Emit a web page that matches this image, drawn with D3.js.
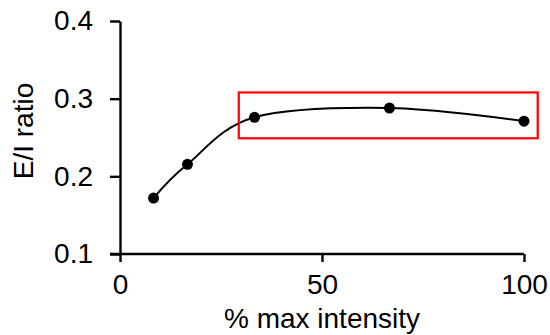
<!DOCTYPE html>
<html lang="en">
<head>
  <meta charset="UTF-8">
  <title>E/I ratio</title>
  <style>
    html, body {
      background: #ffffff;
      margin: 0px;
      overflow: hidden;
    }
    #container {
      width: 550px;
      height: 335px;
    }
    text {
      font-family: "Liberation Sans", Arial, sans-serif;
      fill: #000;
    }
  </style>
</head>
<body>
<div id="container"></div>

<script src="https://cdnjs.cloudflare.com/ajax/libs/d3/7.8.5/d3.min.js"></script>
<script>

  // data
  var intensity = [8.3, 16.7, 33.3, 66.7, 100];
  var eiRatio = [0.172, 0.2155, 0.276, 0.288, 0.271];
  var xTicks = [0, 50, 100];
  var yTicks = [0.1, 0.2, 0.3, 0.4];
  // highlight box (data units)
  var boxX = [29.4, 103.4];
  var boxY = [0.249, 0.308];

  var width = 550, height = 335;
  var fontSize = 28;

  var svg = d3.select('#container').append('svg')
    .attr('width', width)
    .attr('height', height);

  var x = d3.scaleLinear().domain([0, 100]).range([120, 524]);
  var y = d3.scaleLinear().domain([0.1, 0.4]).range([254, 21]);

  var points = intensity.map((d, i) => ({ x: d, y: eiRatio[i] }));

  // y axis
  var yAxis = svg.append('g')
    .attr('transform', 'translate(' + x(0) + ',0)')
    .call(d3.axisLeft(y).tickValues(yTicks).tickFormat(d3.format('.1f'))
      .tickSize(10).tickSizeOuter(0).tickPadding(17));

  // x axis
  var xAxis = svg.append('g')
    .attr('transform', 'translate(0,' + y(0.1) + ')')
    .call(d3.axisBottom(x).tickValues(xTicks).tickFormat(d3.format('d'))
      .tickSize(8).tickSizeOuter(0).tickPadding(12));

  [yAxis, xAxis].forEach(function(g) {
    g.select('.domain').attr('stroke', '#000').attr('stroke-width', 2.4);
    g.selectAll('.tick line').attr('stroke', '#000').attr('stroke-width', 2.4);
    g.selectAll('.tick text')
      .style('font-family', '"Liberation Sans", Arial, sans-serif')
      .style('font-size', fontSize + 'px')
      .attr('fill', '#000');
  });

  // extend x axis left to meet the 0.1 tick
  xAxis.select('.domain').attr('d', 'M' + (x(0) - 10) + ',0H' + x(100));

  // smooth line
  var line = d3.line()
    .x(d => x(d.x))
    .y(d => y(d.y))
    .curve(d3.curveCardinal.tension(0));

  svg.append('path')
    .datum(points)
    .attr('d', line)
    .attr('fill', 'none')
    .attr('stroke', '#000')
    .attr('stroke-width', 2);

  svg.selectAll('circle')
    .data(points)
    .enter()
    .append('circle')
    .attr('cx', d => x(d.x))
    .attr('cy', d => y(d.y))
    .attr('r', 5.5)
    .style('fill', '#000');

  // red highlight box
  svg.append('rect')
    .attr('x', x(boxX[0]))
    .attr('y', y(boxY[1]))
    .attr('width', x(boxX[1]) - x(boxX[0]))
    .attr('height', y(boxY[0]) - y(boxY[1]))
    .attr('fill', 'none')
    .attr('stroke', '#ff0000')
    .attr('stroke-width', 2.2);

  // axis titles
  svg.append('text')
    .attr('x', x(50))
    .attr('y', 328)
    .attr('text-anchor', 'middle')
    .style('font-size', fontSize + 'px')
    .text('% max intensity');

  svg.append('text')
    .attr('transform', 'translate(33,131) rotate(-90)')
    .attr('text-anchor', 'middle')
    .style('font-size', fontSize + 'px')
    .text('E/I ratio');

</script>
</body>
</html>
